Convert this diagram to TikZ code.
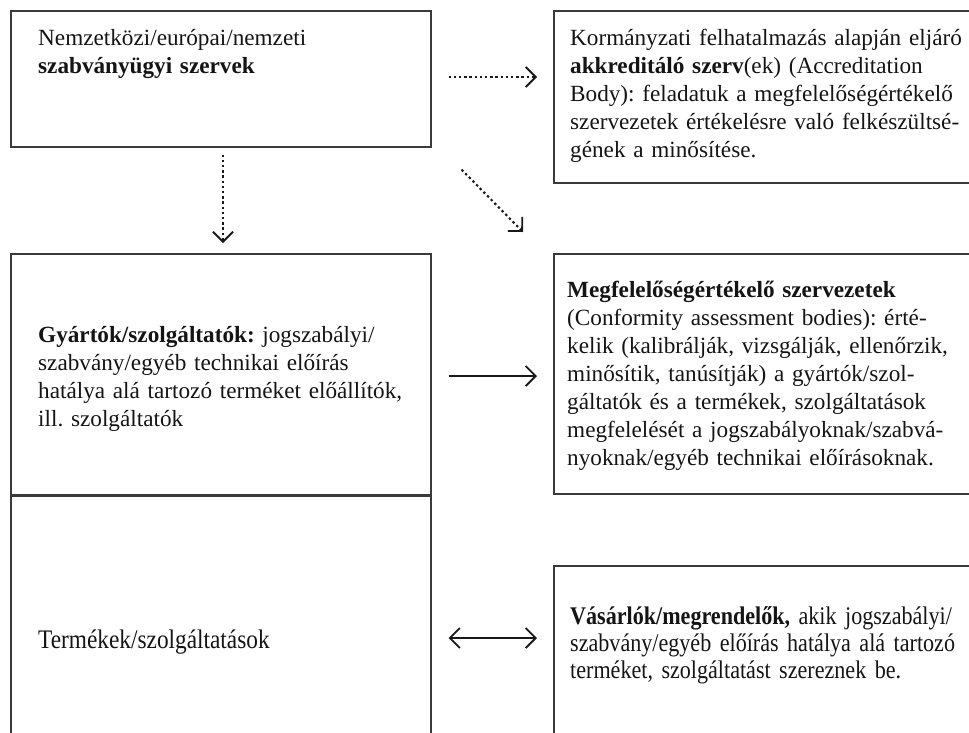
\documentclass[tikz,border=0pt]{standalone}
\usepackage{fontspec}
\setmainfont{Liberation Serif}
\newfontfamily\condfont{Liberation Serif}[FakeStretch=0.87]
\usetikzlibrary{arrows.meta}
\definecolor{ln}{HTML}{3A3A3A}
\frenchspacing
\begin{document}
\begin{tikzpicture}[x=1pt,y=-1pt,
  box/.style={draw=ln, line width=1.6pt, inner sep=0pt, anchor=north west},
  txt/.style={anchor=base west, align=left, inner sep=0pt, text width=420pt,
    font=\fontsize{23.2}{28}\selectfont\frenchspacing, text=black!92},
  ctxt/.style={txt, font=\condfont\fontsize{25.4}{27}\selectfont\frenchspacing},
  arr/.style={draw=black!90, line width=1.8pt, -{Straight Barb[length=10pt,width=20pt,line width=1.8pt]}},
  dotarr/.style={arr, dash pattern=on 2.4pt off 2.8pt, line width=2.1pt},
  dblarr/.style={draw=black!90, line width=1.8pt, {Straight Barb[length=10pt,width=20pt,line width=1.8pt]}-{Straight Barb[length=10pt,width=20pt,line width=1.8pt]}}
]
\useasboundingbox (0,0) rectangle (969,732);
\clip (0,0) rectangle (969,732);
% boxes
\node[box, minimum width=420pt, minimum height=136pt] (b1) at (10,10) {};
\node[box, minimum width=430pt, minimum height=172pt] (b2) at (553,10) {};
\node[box, minimum width=420pt, minimum height=241pt] (b3) at (10,253) {};
\node[box, minimum width=420pt, minimum height=250pt] (b4) at (10,495.6) {};
\node[box, minimum width=430pt, minimum height=240pt] (b5) at (553,253) {};
\node[box, minimum width=430pt, minimum height=180pt] (b6) at (553,565) {};
% texts
\node[txt] (t1) at (38,45) {Nemzetközi/európai/nemzeti\\\textbf{szabványügyi szervek}};
\node[txt] (t2) at (570,45) {Kormányzati felhatalmazás alapján eljáró\\\textbf{akkreditáló szerv}(ek) (Accreditation\\Body): feladatuk a megfelelőségértékelő\\szervezetek értékelésre való felkészültsé-\\gének a minősítése.};
\node[txt] (t3) at (38,342) {\textbf{Gyártók/szolgáltatók:} jogszabályi/\\szabvány/egyéb technikai előírás\\hatálya alá tartozó terméket előállítók,\\ill. szolgáltatók};
\node[ctxt, font=\condfont\fontsize{26.8}{27}\selectfont] (t4) at (38,648) {Termékek/szolgáltatások};
\node[txt] (t5) at (567,297) {\textbf{Megfelelőségértékelő szervezetek}\\(Conformity assessment bodies): érté-\\kelik (kalibrálják, vizsgálják, ellenőrzik,\\minősítik, tanúsítják) a gyártók/szol-\\gáltatók és a termékek, szolgáltatások\\megfelelését a jogszabályoknak/szabvá-\\nyoknak/egyéb technikai előírásoknak.};
\node[ctxt] (t6) at (570,624) {\textbf{Vásárlók/megrendelők,} akik jogszabályi/\\szabvány/egyéb előírás hatálya alá tartozó\\terméket, szolgáltatást szereznek be.};
% connectors
\draw[dotarr] ([xshift=17pt]b1.east |- 0,77) -- ([xshift=-16pt]b2.west |- 0,77);
\draw[dotarr] ([yshift=-7pt]b1.south -| 223,0) -- ([yshift=10pt]b3.north -| 223,0);
\draw[dotarr] ([xshift=30pt,yshift=-22pt]b1.south east) -- ([xshift=-30pt,yshift=21pt]b5.north west);
\draw[arr] ([xshift=17pt]b3.east |- 0,376) -- ([xshift=-16pt]b5.west |- 0,376);
\draw[dblarr] ([xshift=17pt]b4.east |- 0,638) -- ([xshift=-16pt]b6.west |- 0,638);
\end{tikzpicture}
\end{document}
